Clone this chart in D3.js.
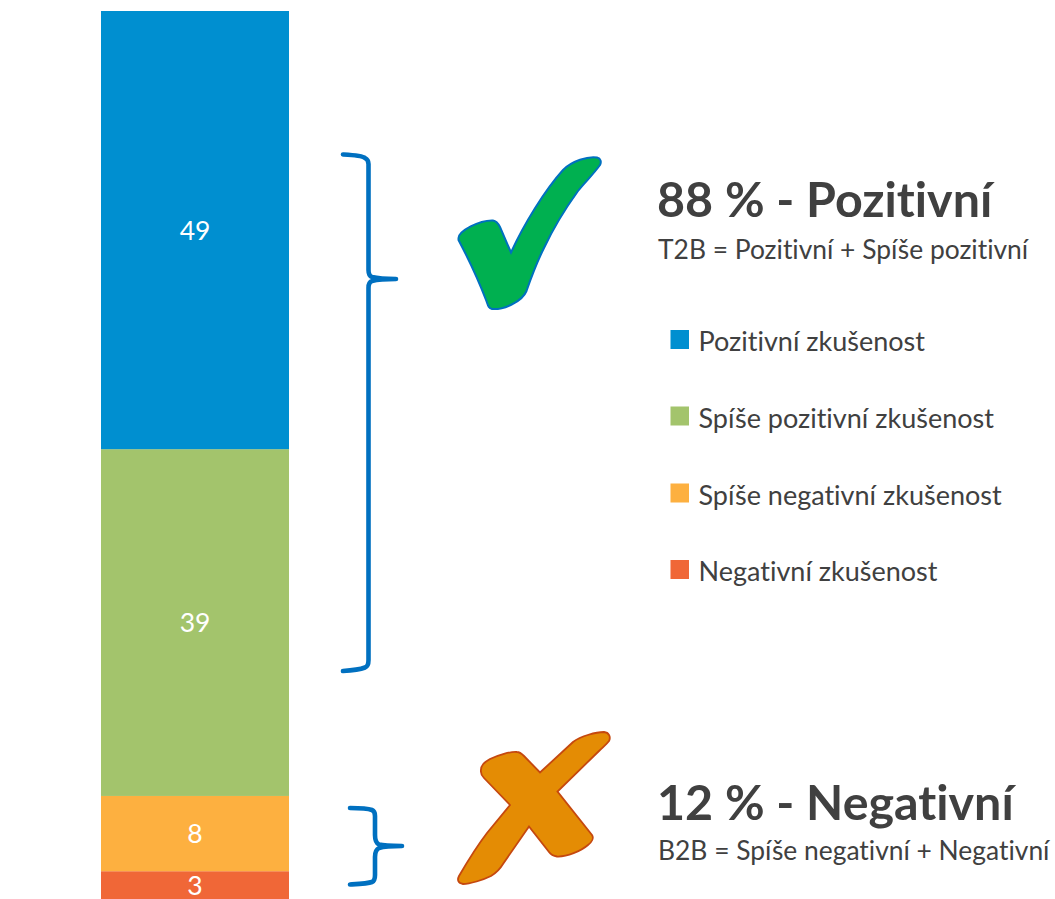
<!DOCTYPE html>
<html lang="cs">
<head>
<meta charset="utf-8">
<script src="https://cdn.jsdelivr.net/npm/d3@7"></script>
<style>
html,body{margin:0;padding:0;background:#fff;}
svg{display:block;}
text{font-family:Lato,"Open Sans",sans-serif;font-variant-ligatures:none;}
</style>
</head>
<body>
<div id="chart"></div>
<script>
// Drawn bottom to top
const categories = ["Negativní zkušenost","Spíše negativní zkušenost","Spíše pozitivní zkušenost","Pozitivní zkušenost"];
const values = [3.1, 8.4, 38.7, 48.9];
const colors = ["#F06737","#FDB040","#A3C46C","#008FD0"];
const legendOrder = ["Pozitivní zkušenost","Spíše pozitivní zkušenost","Spíše negativní zkušenost","Negativní zkušenost"];
const legendRows = [340, 416.5, 493.5, 570];

const W = 1055, H = 899;
const svg = d3.select("#chart").append("svg").attr("width",W).attr("height",H).attr("viewBox",`0 0 ${W} ${H}`);

const row = {};
categories.forEach((c,i)=>row[c]=values[i]);
const stacked = d3.stack().keys(categories)([row]);
const total = d3.sum(values);
const y = d3.scaleLinear().domain([0,total]).range([899,11]);
const x = d3.scaleBand().domain(["all"]).range([101,289]).padding(0);
const color = d3.scaleOrdinal().domain(categories).range(colors);
const fmt = d3.format(".0f");

const seg = svg.append("g").selectAll("g").data(stacked).join("g");
seg.append("rect")
  .attr("x",x("all")).attr("width",x.bandwidth())
  .attr("y",d=>y(d[0][1])).attr("height",d=>y(d[0][0])-y(d[0][1]))
  .attr("fill",d=>color(d.key));
seg.append("text")
  .attr("x",x("all")+x.bandwidth()/2)
  .attr("y",d=>(y(d[0][0])+y(d[0][1]))/2)
  .attr("dy","0.36em").attr("text-anchor","middle")
  .attr("fill","#fff").attr("font-size",26.5)
  .text(d=>fmt(d[0][1]-d[0][0]));

// Legend
const legend = svg.append("g").selectAll("g").data(legendOrder).join("g")
  .attr("transform",(d,i)=>`translate(670.5,${legendRows[i]})`);
legend.append("rect").attr("x",0).attr("y",-10).attr("width",18.5).attr("height",19).attr("fill",d=>color(d));
legend.append("text").attr("x",28).attr("y",11).attr("fill","#404040").attr("font-size",27).text(d=>d);

// Summary texts
const summaries = [
 {title:"88 % - Pozitivní", sub:"T2B = Pozitivní + Spíše pozitivní", ty:217, sy:259},
 {title:"12 % - Negativní", sub:"B2B = Spíše negativní + Negativní", ty:820, sy:860}
];
const sg = svg.append("g").selectAll("g").data(summaries).join("g");
sg.append("text").attr("x",657).attr("y",d=>d.ty).attr("fill","#404040").attr("font-size",48.4).attr("font-weight",700).text(d=>d.title);
sg.append("text").attr("x",658).attr("y",d=>d.sy).attr("fill","#404040").attr("font-size",26.4).text(d=>d.sub);

// Braces
const braces = [
 "M343,154.5 C352,155 362,155.5 365,158 C367,159 368.5,161 368.5,164 L368.5,270 C368.5,274 369,276 372,277 C378,278.5 388,279 396,279 C388,279 378,279.5 372,281 C369,282 368.5,284 368.5,288 L368.5,660 C368.5,664 368,666.5 365,667.5 C360,669.5 352,670.5 343,671",
 "M350,808 C358,808 368,808.5 372,810 C374.5,811 375,813 375,816 L375,835 C375,840 376,843 379,844.5 C384,846 394,846 402,846 C394,846 384,846.5 379,848 C376,849.5 375,852 375,857 L375,875 C375,879 374.5,881 372,882 C368,883.5 358,884 350,884.5"
];
svg.append("g").selectAll("path").data(braces).join("path")
  .attr("d",d=>d).attr("fill","none").attr("stroke","#0070C0").attr("stroke-width",4.6).attr("stroke-linejoin","round").attr("stroke-linecap","round");

// Check mark and cross
svg.append("path")
  .attr("d","M458.5,238 C459,231 479,220 493,220.5 C497,221 498.5,224 500,227 L511,252.5 C524,224 545,190 563,170 C572,161 588,156 597,157.5 C601,158.5 601.5,162 600,165 C592,176 585,182 578,191 C565,209 553,229 544,248 C537,262 531,278 526.5,291 C522,302 503,310 492,309 C488,308 488,305 486,300 C478,279 468,258 458.5,240 Z")
  .attr("fill","#00B050").attr("stroke","#0070C0").attr("stroke-width",2);
svg.append("path")
  .attr("d","M481,772 C480,765 485,762 490,759 C498,755 510,751.5 517,752 C520,752 522,754 524,756 L540,772.5 L573,742 C581,736 596,732 604,732 C609,732.5 611,737 609,741 C606,745 603,747 599,751 L557.5,791.5 L592,835 C594,838 592,842 588,845 C581,851 567,857 557,856.5 C553,856 551,855 549,852 L529,826.5 L503,864 C500,869 496,873 491,876 C483,880 470,884 463,884 C458,883 457,880 459,876 C466,864 477,846 487,833 L510,805 L484,778 C482,776 481,774 481,772 Z")
  .attr("fill","#E48C04").attr("stroke","#C5480F").attr("stroke-width",1.8);
</script>
</body>
</html>
